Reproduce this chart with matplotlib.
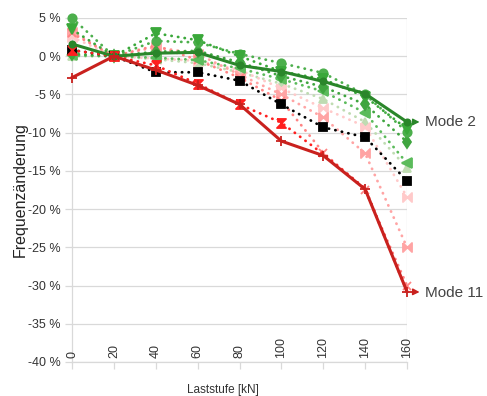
import matplotlib
matplotlib.use("Agg")
import matplotlib.pyplot as plt
import numpy as np

plt.rcParams['font.family'] = ['Liberation Sans', 'DejaVu Sans']

# load steps in kN (category axis)
laststufe = [0, 20, 40, 60, 80, 100, 120, 140, 160]
x_labels = [str(v) for v in laststufe]

# frequency change in % per mode
mode_2 = [1.6, 0, 0.4, 0.5, -1.2, -2.0, -3.3, -4.9, -8.6]
green_circle = [5.0, 0, 2.0, 1.8, 0.3, -0.9, -2.2, -5.0, -9.9]
green_tri_down = [3.5, 0, 3.0, 2.1, 0.0, -2.0, -3.0, -5.3, -9.5]
green_diamond = [0.3, 0, 0.6, 0.7, -0.8, -2.6, -4.0, -6.3, -11.2]
green_tri_left = [0.1, 0, -0.2, -0.5, -1.6, -3.0, -4.6, -7.4, -14.0]
pale_green = [0.0, 0, -0.4, -0.9, -2.1, -3.6, -5.6, -8.6, -14.6]
black_sq = [0.8, 0, -2.1, -2.1, -3.2, -6.3, -9.3, -10.6, -16.3]
pale_pink = [2.5, 0, -0.3, -0.6, -1.8, -4.2, -6.8, -9.2, -18.4]
pink = [3.2, 0, 1.2, 0.3, -2.4, -5.0, -8.0, -12.7, -25.0]
salmon_x = [3.0, 0, 1.4, -0.5, -2.8, -5.8, -12.6, -17.5, -30.0]
red_hg = [0.8, 0, -1.2, -3.6, -6.3, -8.7, -12.8, -17.3, -30.8]
mode_11 = [-2.8, 0, -1.8, -3.8, -6.3, -11.1, -13.0, -17.4, -30.8]

yticks = list(range(5, -41, -5))

hourglass = [(-1, 1), (1, 1), (-1, -1), (1, -1), (-1, 1)]
bowtie = [(-1, 1), (1, -1), (1, 1), (-1, -1), (-1, 1)]

# (values, colour, marker, markersize, solid?, markevery)
series = [
    (pale_green, '#bfdcb2', '^', 6, False, None),
    (pale_pink, '#ffcaca', bowtie, 6.5, False, None),
    (pink, '#ffa4a4', bowtie, 6.5, False, None),
    (salmon_x, '#ff8484', 'x', 6, False, None),
    (green_tri_left, '#5bbb5b', '<', 6.5, False, None),
    (green_diamond, '#3fa53f', 'd', 6, False, None),
    (green_circle, '#4caf4c', 'o', 6, False, None),
    (green_tri_down, '#3aa83a', 'v', 6.5, False, None),
    (black_sq, '#000000', 's', 6, False, None),
    (red_hg, '#ff1f1f', hourglass, 6.5, False, list(range(6))),
    (mode_2, '#2a862a', 'o', 4.5, True, None),
    (mode_11, '#c9211e', '+', 7, True, None),
]

fig = plt.figure(figsize=(4.87, 3.96), dpi=100)
ax = fig.add_axes([72 / 487, 1 - 362 / 396, (407 - 72) / 487, (362 - 18) / 396])

for vals, col, mk, ms, solid, every in series:
    if solid:
        ax.plot(laststufe, vals, color=col, lw=2.2, marker=mk, ms=ms,
                mec=col, mfc=col, mew=1.3, clip_on=False, zorder=4)
    else:
        ax.plot(laststufe, vals, color=col, lw=2.0, linestyle=(0, (0.1, 2.3)),
                dash_capstyle='round', marker=mk, ms=ms, mec=col, mfc=col,
                mew=1.3, markevery=every, clip_on=False, zorder=3)

ax.set_xlim(0, 160)
ax.set_ylim(-40, 5)
ax.set_yticks(yticks)
ax.set_yticklabels([f"{v} %" for v in yticks])
ax.set_xticks(laststufe)
ax.set_xticklabels([])
ax.grid(axis='y', color='#d9d9d9', lw=0.9)
ax.set_axisbelow(True)
ax.axvline(160, color='#d9d9d9', lw=0.9, zorder=0)

for s in ['top', 'right']:
    ax.spines[s].set_visible(False)
for s in ['left', 'bottom']:
    ax.spines[s].set_color('#d9d9d9')
    ax.spines[s].set_linewidth(0.9)
ax.tick_params(axis='both', color='#d9d9d9', length=5, width=0.9,
               labelsize=9, labelcolor='#333333')
ax.tick_params(axis='y', pad=3)

# x tick labels sit rotated just above the bottom line
for xv, lab in zip(laststufe, x_labels):
    ax.text(xv, 0.012, lab, transform=ax.get_xaxis_transform(), rotation=90,
            ha='center', va='bottom', fontsize=9, color='#333333')

ax.set_ylabel("Frequenzänderung", fontsize=11.5, color='#222222', labelpad=0)
fig.text(223 / 487, 1 - 390 / 396, "Laststufe [kN]", ha='center', va='center',
         fontsize=8.5, color='#333333')

for lab, vals, col, dy in [("Mode 2", mode_2, '#2a862a', 0),
                           ("Mode 11", mode_11, '#c9211e', -1)]:
    ax.annotate(lab, xy=(160, vals[-1]), xytext=(13, dy),
                textcoords='offset points', va='center', fontsize=11,
                color='#444444', annotation_clip=False,
                arrowprops=dict(arrowstyle='<|-,head_length=0.35,head_width=0.18',
                                color=col, lw=1, shrinkA=2, shrinkB=4))

fig.savefig("out.png", dpi=100)
